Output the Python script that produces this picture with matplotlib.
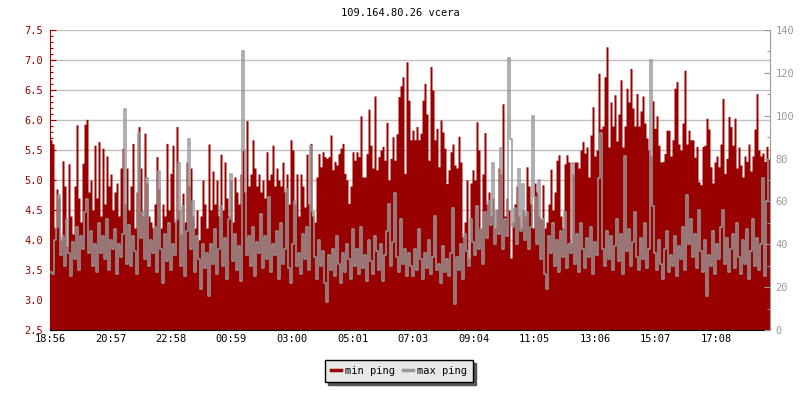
import numpy as np
import matplotlib.pyplot as plt
from matplotlib.ticker import MultipleLocator, FormatStrFormatter
from matplotlib.lines import Line2D

plt.rcParams['font.family'] = ['DejaVu Sans Mono']

title = "109.164.80.26 vcera"
start_time = "18:56"
step_min = 4  # one sample every 4 minutes
tick_labels = ["18:56", "20:57", "22:58", "00:59", "03:00", "05:01",
               "07:03", "09:04", "11:05", "13:06", "15:07", "17:08"]

# min ping [ms], left axis
min_ping = [
    5.67, 5.6, 4.2, 4.85, 4.7, 4.0, 5.32, 4.9, 3.9, 5.27, 4.4, 4.1, 4.9, 5.92, 4.7, 4.3, 5.28, 5.93, 6.01, 4.8,
    5.0, 4.5, 5.58, 4.7, 5.64, 4.4, 5.53, 4.6, 5.4, 4.9, 5.1, 4.5, 4.8, 4.95, 4.4, 5.2, 5.53, 4.6, 5.2, 4.5,
    4.9, 5.61, 4.2, 4.8, 5.89, 5.2, 4.4, 5.78, 4.95, 4.4, 4.3, 4.2, 4.6, 5.39, 4.85, 4.2, 4.6, 4.4, 5.61, 4.5,
    5.11, 5.58, 4.3, 5.89, 4.5, 4.1, 4.78, 4.3, 5.3, 4.9, 5.2, 4.4, 4.2, 4.5, 4.0, 4.4, 5.0, 4.6, 4.2, 5.6,
    4.5, 5.15, 4.6, 5.0, 4.4, 5.43, 4.5, 5.3, 4.7, 4.4, 5.0, 4.3, 5.05, 4.8, 4.6, 5.1, 5.5, 4.8, 5.99, 4.9,
    5.1, 5.67, 5.2, 4.9, 5.1, 4.8, 5.0, 4.7, 5.47, 5.0, 5.1, 5.58, 4.9, 5.2, 5.0, 4.9, 5.3, 4.8, 5.1, 4.6,
    5.67, 5.5, 4.6, 5.1, 4.4, 5.1, 4.9, 4.55, 5.43, 4.6, 5.61, 4.4, 4.3, 5.05, 5.44, 5.22, 5.47, 5.39, 5.36, 5.39,
    5.75, 5.17, 5.31, 5.25, 5.44, 5.53, 5.61, 5.11, 5.0, 4.61, 4.9, 5.47, 5.33, 5.47, 5.39, 6.07, 5.05, 5.05, 5.44, 6.18,
    5.58, 5.2, 6.4, 5.17, 5.39, 5.5, 5.56, 5.33, 5.96, 5.0, 5.36, 5.72, 5.33, 5.77, 6.39, 6.57, 6.72, 5.11, 6.97, 6.33,
    5.67, 5.83, 5.67, 5.89, 5.67, 5.78, 6.33, 6.61, 6.1, 5.33, 6.89, 6.5, 5.67, 5.86, 5.22, 6.0, 5.8, 5.53, 4.94, 5.17,
    5.47, 5.6, 5.25, 5.2, 5.73, 5.3, 4.05, 4.3, 5.0, 3.7, 4.95, 5.17, 5.0, 5.97, 5.5, 4.2, 5.1, 5.79, 4.6, 4.8,
    4.4, 4.7, 4.2, 4.5, 5.2, 5.1, 6.27, 4.4, 4.7, 4.5, 3.7, 4.3, 4.6, 4.9, 4.4, 4.2, 4.5, 4.4, 5.22, 4.9,
    4.6, 4.2, 4.95, 4.8, 4.4, 4.35, 4.92, 4.2, 4.3, 4.6, 5.18, 4.5, 4.8, 5.33, 5.42, 4.4, 4.2, 5.27, 5.42, 5.3,
    3.95, 5.1, 5.3, 5.3, 5.2, 5.5, 5.64, 5.45, 5.55, 5.05, 5.75, 6.22, 5.4, 5.5, 6.78, 5.85, 5.9, 6.72, 7.22, 5.55,
    6.3, 5.9, 6.42, 5.65, 6.1, 6.67, 5.55, 5.9, 6.53, 6.3, 6.86, 6.2, 5.9, 6.44, 5.9, 6.15, 6.4, 5.95, 5.7, 5.5,
    5.4, 6.32, 5.86, 6.07, 5.58, 5.3, 5.31, 5.44, 5.83, 5.83, 5.4, 5.67, 6.53, 6.64, 5.6, 5.5, 5.95, 6.83, 5.6, 5.83,
    5.67, 5.67, 5.38, 5.56, 4.97, 4.92, 5.56, 5.58, 6.03, 5.85, 5.22, 4.95, 5.3, 5.4, 5.22, 5.6, 6.36, 5.11, 5.36, 6.06,
    5.89, 5.58, 6.03, 5.2, 5.55, 5.25, 5.05, 5.4, 5.31, 5.6, 5.15, 5.4, 5.85, 6.44, 5.5, 5.4, 5.45, 5.31, 5.56, 5.35,
]

# max ping [ms], right axis
max_ping = [
    27, 26, 42, 48, 63, 35, 44, 30, 52, 36, 25, 41, 33, 48, 28, 44, 38, 55, 61, 36,
    46, 30, 40, 27, 50, 36, 44, 33, 52, 28, 42, 38, 47, 26, 40, 34, 45, 103, 31, 49,
    30, 44, 37, 26, 92, 43, 55, 33, 71, 30, 42, 36, 48, 27, 74, 38, 22, 45, 32, 50,
    28, 40, 35, 52, 78, 30, 58, 25, 46, 89, 38, 60, 27, 44, 33, 19, 40, 29, 36, 16,
    40, 31, 47, 26, 38, 58, 30, 43, 24, 52, 73, 32, 45, 28, 39, 23, 130, 84, 35, 44,
    30, 48, 25, 41, 36, 54, 29, 44, 33, 62, 27, 40, 35, 46, 24, 50, 31, 38, 66, 29,
    22, 40, 60, 30, 36, 26, 45, 33, 48, 28, 86, 55, 34, 24, 42, 30, 37, 22, 13, 35,
    28, 38, 25, 44, 31, 22, 36, 27, 40, 33, 24, 47, 30, 38, 26, 48, 29, 35, 23, 42,
    32, 26, 44, 37, 28, 40, 23, 35, 46, 59, 30, 41, 64, 34, 27, 52, 31, 38, 25, 36,
    30, 25, 38, 28, 47, 33, 24, 36, 29, 42, 26, 34, 53, 28, 31, 22, 39, 27, 33, 25,
    36, 57, 12, 34, 28, 40, 24, 45, 37, 30, 52, 41, 35, 58, 38, 47, 31, 55, 43, 60,
    49, 78, 40, 56, 45, 85, 38, 52, 44, 127, 89, 48, 57, 40, 75, 46, 68, 42, 55, 38,
    48, 100, 62, 40, 70, 33, 52, 26, 19, 44, 36, 50, 30, 42, 27, 46, 34, 55, 29, 40,
    36, 78, 31, 45, 27, 50, 38, 29, 43, 34, 48, 26, 41, 35, 71, 92, 38, 30, 46, 33,
    44, 28, 39, 52, 32, 45, 26, 81, 37, 47, 30, 41, 55, 34, 28, 43, 33, 50, 29, 38,
    126, 58, 36, 28, 42, 31, 24, 38, 46, 27, 35, 30, 44, 25, 39, 33, 48, 28, 63, 40,
    52, 34, 45, 29, 56, 37, 27, 42, 16, 35, 30, 46, 26, 40, 33, 48, 56, 31, 43, 27,
    38, 45, 29, 50, 34, 26, 42, 31, 47, 24, 37, 52, 30, 43, 28, 40, 71, 25, 60, 80,
]

RED = '#990000'
GREY = '#999999'


def minutes_after_start(label):
    h, m = map(int, label.split(':'))
    h0, m0 = map(int, start_time.split(':'))
    return ((h * 60 + m) - (h0 * 60 + m0)) % 1440


def main():
    fig = plt.figure(figsize=(8, 4), dpi=100)
    ax = fig.add_axes([50 / 800, 70 / 400, 720 / 800, 300 / 400])

    t = np.arange(len(min_ping) + 1) * step_min
    y_min = np.append(min_ping, min_ping[-1])
    y_max = np.append(max_ping, max_ping[-1])

    ax.fill_between(t, 2.5, y_min, step='post', color=RED, lw=0)
    ax.set_xlim(0, 1440)
    ax.set_ylim(2.5, 7.5)
    ax.yaxis.set_major_locator(MultipleLocator(0.5))
    ax.yaxis.set_minor_locator(MultipleLocator(0.1))
    ax.yaxis.set_major_formatter(FormatStrFormatter('%.1f'))
    ax.grid(axis='y', which='major', color='#c0c0c0', lw=1)
    ax.set_axisbelow(True)

    ax.set_xticks([minutes_after_start(s) for s in tick_labels])
    ax.set_xticklabels(tick_labels)

    ax.spines['top'].set_visible(False)
    ax.spines['right'].set_visible(False)
    ax.spines['left'].set_color(RED)
    ax.spines['bottom'].set_color('black')
    ax.tick_params(axis='y', which='major', direction='in', length=4, width=0.8,
                   colors=RED, labelsize=7.5, pad=5)
    ax.tick_params(axis='y', which='minor', direction='in', length=2, width=0.8, colors=RED)
    ax.tick_params(axis='x', direction='in', length=4, width=0.8, colors='black',
                   labelsize=7.5, pad=3)

    ax2 = ax.twinx()
    ax2.plot(t, y_max, drawstyle='steps-post', color=GREY, lw=1.1)
    ax2.set_ylim(0, 140)
    ax2.yaxis.set_major_locator(MultipleLocator(20))
    ax2.yaxis.set_minor_locator(MultipleLocator(10))
    for side in ['left', 'top', 'bottom']:
        ax2.spines[side].set_visible(False)
    ax2.spines['right'].set_color(GREY)
    ax2.tick_params(axis='y', which='major', direction='in', length=4, width=0.8,
                    colors=GREY, labelsize=7.5, pad=4)
    ax2.tick_params(axis='y', which='minor', direction='in', length=2, width=0.8, colors=GREY)

    fig.text(0.5, 1 - 13 / 400, title, ha='center', va='center', fontsize=7.5)

    handles = [Line2D([], [], color=RED, lw=2.5), Line2D([], [], color=GREY, lw=2.5)]
    fig.legend(handles, ['min ping', 'max ping'], loc='center',
               bbox_to_anchor=(399 / 800, 1 - 371 / 400), ncol=2,
               frameon=True, fancybox=False, edgecolor='black', facecolor='#e8e8e8',
               framealpha=1, shadow={'color': '#555555', 'alpha': 1},
               fontsize=7.5, handlelength=1.0, handletextpad=0.4,
               columnspacing=0.7, borderpad=0.55, borderaxespad=0.3)

    fig.savefig('out.png', dpi=100)


if __name__ == "__main__":
    main()
